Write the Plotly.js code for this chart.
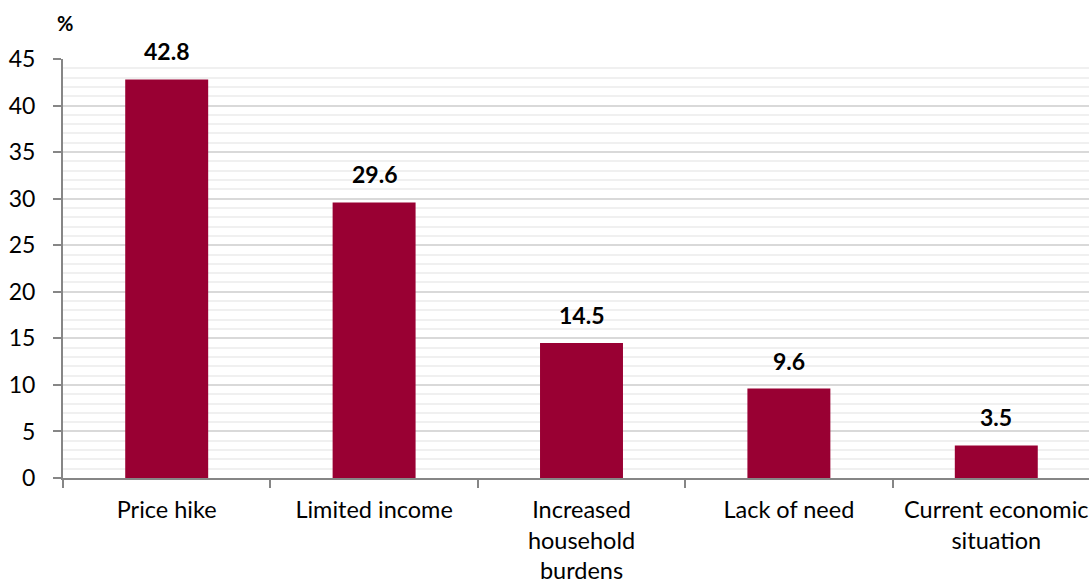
<!DOCTYPE html>
<html>
<head>
<meta charset="utf-8">
<script src="https://cdn.plot.ly/plotly-3.0.1.min.js"></script>
<style>html,body{margin:0;padding:0;background:#fff;overflow:hidden}#chart{width:1089px;height:587px}</style>
</head>
<body>
<div id="chart"></div>
<script>
const categories = ["Price hike", "Limited income", "Increased<br>household<br>burdens", "Lack of need", "Current economic<br>situation"];
const values = [42.8, 29.6, 14.5, 9.6, 3.5];
const yTicks = [0, 5, 10, 15, 20, 25, 30, 35, 40, 45];
const unitLabel = "%";

const FONT = "Lato, 'Open Sans', sans-serif";
const barColor = "#990033";

const trace = {
  type: "bar",
  x: categories,
  y: values,
  width: 0.4,
  marker: {color: barColor},
  hoverinfo: "skip"
};

const annotations = values.map((v, i) => ({
  x: categories[i], y: v, xref: "x", yref: "y",
  text: "<b>" + v.toFixed(1) + "</b>",
  showarrow: false, yanchor: "bottom", yshift: 12,
  font: {family: FONT, size: 23, color: "#000"}
}));
annotations.push({
  xref: "paper", yref: "paper", x: 0.0, y: 1, xanchor: "center", yanchor: "bottom",
  xshift: 2, yshift: 22,
  text: "<b>" + unitLabel + "</b>", showarrow: false,
  font: {family: FONT, size: 20, color: "#000"}
});

const layout = {
  width: 1089, height: 587,
  margin: {l: 63, r: 0, t: 59, b: 109},
  paper_bgcolor: "#fff", plot_bgcolor: "#fff",
  showlegend: false,
  bargap: 0.6,
  font: {family: FONT, size: 23, color: "#000"},
  xaxis: {
    type: "category",
    range: [-0.5, 4.447],
    showline: true, linecolor: "#868686", linewidth: 2,
    ticks: "outside", tickson: "boundaries", ticklen: 8, tickcolor: "#868686", tickwidth: 2,
    tickfont: {family: FONT, size: 23.5, color: "#000"},
    showgrid: false, zeroline: false, fixedrange: true,
    ticklabelstandoff: 10
  },
  yaxis: {
    range: [0, 45],
    tickvals: yTicks,
    ticktext: yTicks.map(String),
    showline: true, linecolor: "#868686", linewidth: 2,
    ticks: "outside", ticklen: 8, tickcolor: "#868686", tickwidth: 2,
    tickfont: {family: FONT, size: 23, color: "#000"},
    showgrid: true, gridcolor: "#d9d9d9", gridwidth: 2,
    minor: {dtick: 1, showgrid: true, gridcolor: "#f0f0f0", gridwidth: 2},
    zeroline: false, fixedrange: true,
    ticklabelstandoff: 13
  },
  annotations: annotations
};

Plotly.newPlot("chart", [trace], layout, {displayModeBar: false, staticPlot: true});
</script>
</body>
</html>
